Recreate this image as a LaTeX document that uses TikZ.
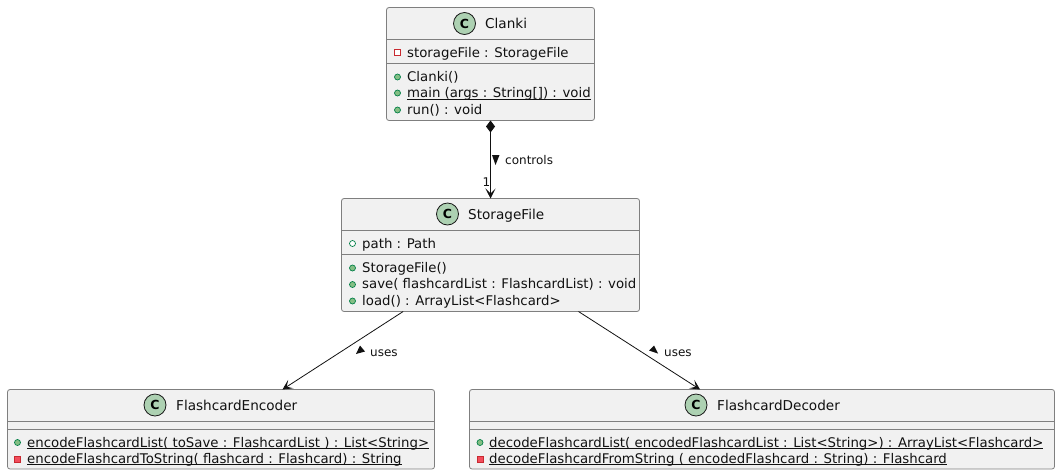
\documentclass[tikz,border=0pt]{standalone}
\usepackage{fontspec}
\setmainfont{DejaVu Sans}
\usetikzlibrary{arrows.meta}
\newcommand{\lowline}[1]{\underline{\smash{#1}}}
\tikzset{
  classbox/.style = {draw = boxgray, fill = boxfill, rounded corners = 2.5, line width = .8pt, inner sep = 0, outer sep = 0},
  classline/.style = {draw = boxgray, line width = .8pt},
  classmark/.style = {draw = markline, fill = markgreen, line width = .8pt},
  title/.style = {anchor = base west, inner sep = 0, font = \fontsize{13.6}{15}\selectfont, text = inkblack},
  member/.style = {anchor = base west, inner sep = 0, font = \fontsize{13.3}{15}\selectfont, text = inkblack},
  edgelabel/.style = {anchor = base west, inner sep = 0, font = \fontsize{12}{13}\selectfont, text = inkblack},
  link/.style = {draw = inkblack, line width = .8pt, -{Stealth[length = 10pt, width = 10pt, inset = 5pt]}},
  pubmethod/.style = {draw = publine, fill = pubfill, line width = .7pt},
  pubfield/.style = {draw = publine, fill = white, line width = .7pt},
  privfield/.style = {draw = privline, fill = white, line width = .7pt},
  privmethod/.style = {draw = privline, fill = privfill, line width = .7pt}
}
\definecolor{boxgray}{HTML}{7F7F7F}
\definecolor{boxfill}{HTML}{F1F1F1}
\definecolor{markline}{HTML}{181818}
\definecolor{markgreen}{HTML}{ADD1B2}
\definecolor{inkblack}{HTML}{111111}
\definecolor{publine}{HTML}{038048}
\definecolor{pubfill}{HTML}{84BE84}
\definecolor{privline}{HTML}{C82930}
\definecolor{privfill}{HTML}{F24D5C}
\begin{document}
\begin{tikzpicture}[x = 1pt, y = -1pt]
  \useasboundingbox (0, 0) rectangle (1060, 475);
  % class frames
  \node[classbox, minimum width = 208, minimum height = 113] (clanki) at (490.5, 64) {};
  \node[classbox, minimum width = 298, minimum height = 113] (storagefile) at (490.5, 255) {};
  \node[classbox, minimum width = 427, minimum height = 79.5] (flashcardencoder) at (221, 429.25) {};
  \node[classbox, minimum width = 585, minimum height = 79.5] (flashcarddecoder) at (762, 429.25) {};
  % compartment lines
  \foreach \y in {39.5, 63.5}
    \draw[classline] (386.5, \y)--(594.5, \y);
  \foreach \y in {230.5, 254.5}
    \draw[classline] (341.5, \y)--(639.5, \y);
  \foreach \y in {421.5, 429.5} {
    \draw[classline] (7.5, \y)--(434.5, \y);
    \draw[classline] (469.5, \y)--(1054.5, \y);
  }
  % class circles
  \foreach \cx/\cy/\nm in {464.5/23.5/clankimark, 447.5/214/storagemark, 155/405/encodermark, 696/405/decodermark} {
    \draw[classmark] (\cx, \cy) circle (11);
    \node[inner sep = 0, font = \fontsize{12.5}{15}\selectfont\bfseries, text = black] (\nm) at (\cx, \cy) {C};
  }
  % titles
  \node[title] (clankititle) at (485, 28) {Clanki};
  \node[title] (storagetitle) at (468, 219.5) {StorageFile};
  \node[title] (encodertitle) at (176, 410) {FlashcardEncoder};
  \node[title] (decodertitle) at (717, 410) {FlashcardDecoder};
  % members
  \node[member] (clankifield) at (407, 57) {storageFile : StorageFile};
  \node[member] (clankictor) at (407, 81) {Clanki()};
  \node[member] (clankimain) at (407, 97.5) {\lowline{main (args : String[]) : void}};
  \node[member] (clankirun) at (407, 114) {run() : void};
  \node[member] (storagepath) at (362, 248) {path : Path};
  \node[member] (storagector) at (362, 272) {StorageFile()};
  \node[member] (storagesave) at (362, 288.5) {save( flashcardList : FlashcardList) : void};
  \node[member] (storageload) at (362, 305) {load() : ArrayList<Flashcard>};
  \node[member] (encoderlist) at (27, 447) {\lowline{encodeFlashcardList( toSave : FlashcardList ) : List<String>}};
  \node[member] (encoderstring) at (27, 463) {\lowline{encodeFlashcardToString( flashcard : Flashcard) : String}};
  \node[member] (decoderlist) at (489, 447) {\lowline{decodeFlashcardList( encodedFlashcardList : List<String>) : ArrayList<Flashcard>}};
  \node[member] (decoderstring) at (489, 463) {\lowline{decodeFlashcardFromString ( encodedFlashcard : String) : Flashcard}};
  % visibility icons
  \draw[privfield] (394.5, 49.5) rectangle (400.5, 55.5);
  \foreach \cx/\cy in {397.5/77, 397.5/93, 397.5/110, 352.5/268, 352.5/284.5, 352.5/301, 17.5/442.5}
    \draw[pubmethod] (\cx, \cy) circle (3);
  \draw[pubmethod] (480, 442.5) circle (3);
  \draw[pubfield] (352.5, 243.5) circle (3);
  \draw[privmethod] (14.5, 456) rectangle (20.5, 462);
  \draw[privmethod] (477, 456) rectangle (483, 462);
  % connectors
  \draw[link, {Diamond[length = 12pt, width = 9pt, fill = inkblack]}-{Stealth[length = 10pt, width = 10pt, inset = 5pt]}] (clanki)--(storagefile);
  \draw[link] (storagefile)--(flashcardencoder);
  \draw[link] (storagefile)--(flashcarddecoder);
  % link labels
  \fill[inkblack] (492, 155)--(499.5, 155)--(495.5, 165)--cycle;
  \node[edgelabel] (controlslabel) at (505, 164.5) {controls};
  \node[edgelabel] (onelabel) at (482.5, 186) {1};
  \fill[inkblack] (356, 354)--(365, 351.5)--(360, 345.5)--cycle;
  \node[edgelabel] (usesleft) at (370, 356) {uses};
  \fill[inkblack] (649, 350.5)--(658, 353.5)--(654, 345.5)--cycle;
  \node[edgelabel] (usesright) at (664, 356) {uses};
\end{tikzpicture}
\end{document}
